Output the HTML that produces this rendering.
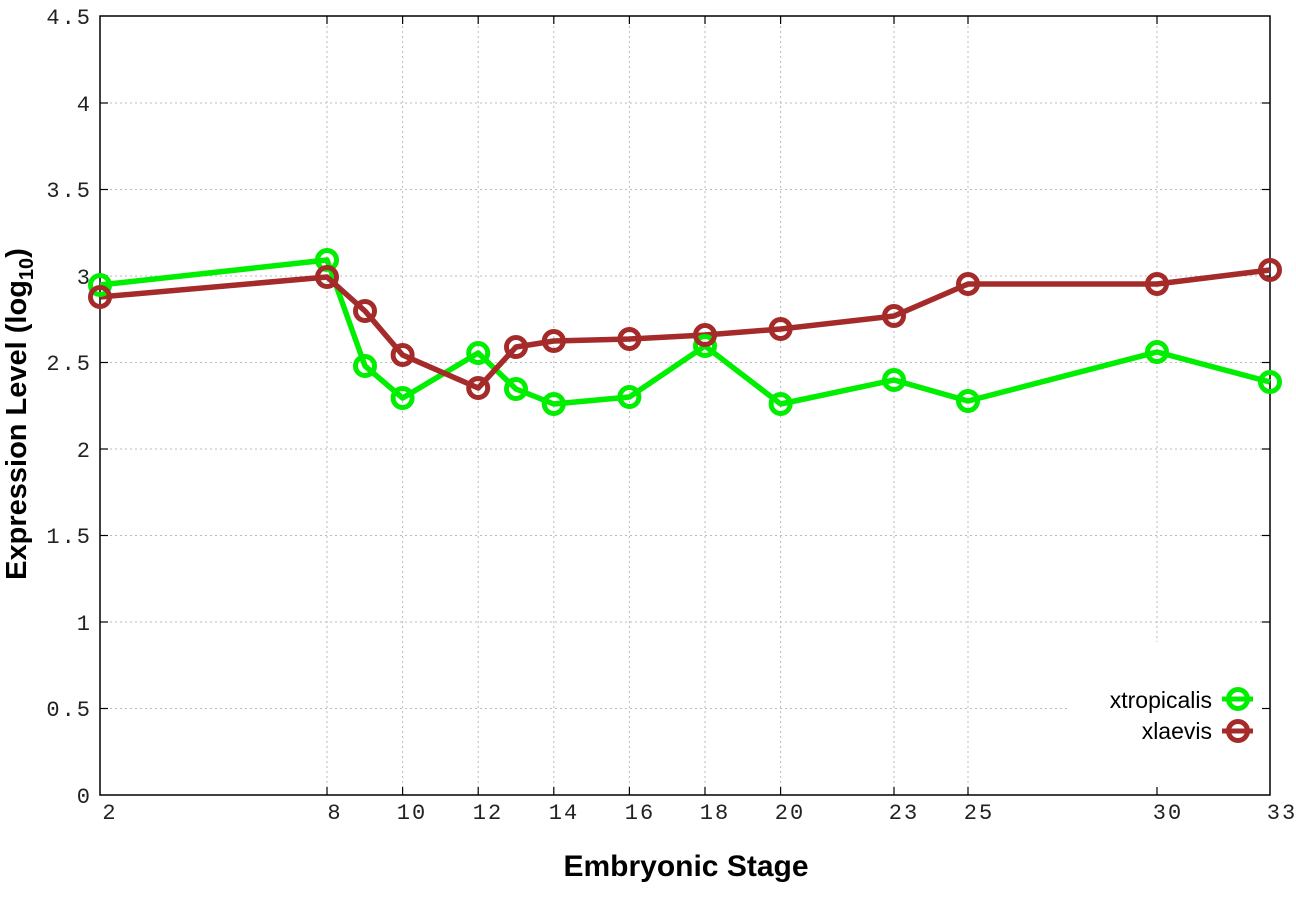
<!DOCTYPE html>
<html><head><meta charset="utf-8"><style>html,body{margin:0;padding:0;background:#fff}svg{display:block}</style></head>
<body>
<svg width="1296" height="907" xmlns="http://www.w3.org/2000/svg">
<rect width="1296" height="907" fill="#fff"/>
<g stroke="#bbb" stroke-width="1" stroke-dasharray="2,3">
<line x1="100" y1="103" x2="1270" y2="103"/>
<line x1="100" y1="189.5" x2="1270" y2="189.5"/>
<line x1="100" y1="276" x2="1270" y2="276"/>
<line x1="100" y1="362.5" x2="1270" y2="362.5"/>
<line x1="100" y1="449" x2="1270" y2="449"/>
<line x1="100" y1="535.5" x2="1270" y2="535.5"/>
<line x1="100" y1="622" x2="1270" y2="622"/>
<line x1="100" y1="708.5" x2="1070" y2="708.5"/>
<line x1="327" y1="16" x2="327" y2="795"/>
<line x1="402.6" y1="16" x2="402.6" y2="795"/>
<line x1="478.2" y1="16" x2="478.2" y2="795"/>
<line x1="553.8" y1="16" x2="553.8" y2="795"/>
<line x1="629.4" y1="16" x2="629.4" y2="795"/>
<line x1="705" y1="16" x2="705" y2="795"/>
<line x1="780.6" y1="16" x2="780.6" y2="795"/>
<line x1="894" y1="16" x2="894" y2="795"/>
<line x1="968" y1="16" x2="968" y2="795"/>
<line x1="1157" y1="16" x2="1157" y2="642"/>
</g>
<rect x="100" y="16" width="1170" height="779" fill="none" stroke="#000" stroke-width="1.5"/>
<g stroke="#000" stroke-width="1.2">
<line x1="100" y1="103" x2="108" y2="103"/><line x1="1270" y1="103" x2="1262" y2="103"/>
<line x1="100" y1="189.5" x2="108" y2="189.5"/><line x1="1270" y1="189.5" x2="1262" y2="189.5"/>
<line x1="100" y1="276" x2="108" y2="276"/><line x1="1270" y1="276" x2="1262" y2="276"/>
<line x1="100" y1="362.5" x2="108" y2="362.5"/><line x1="1270" y1="362.5" x2="1262" y2="362.5"/>
<line x1="100" y1="449" x2="108" y2="449"/><line x1="1270" y1="449" x2="1262" y2="449"/>
<line x1="100" y1="535.5" x2="108" y2="535.5"/><line x1="1270" y1="535.5" x2="1262" y2="535.5"/>
<line x1="100" y1="622" x2="108" y2="622"/><line x1="1270" y1="622" x2="1262" y2="622"/>
<line x1="100" y1="708.5" x2="108" y2="708.5"/><line x1="1270" y1="708.5" x2="1262" y2="708.5"/>
<line x1="327" y1="795" x2="327" y2="787"/><line x1="327" y1="16" x2="327" y2="24"/>
<line x1="402.6" y1="795" x2="402.6" y2="787"/><line x1="402.6" y1="16" x2="402.6" y2="24"/>
<line x1="478.2" y1="795" x2="478.2" y2="787"/><line x1="478.2" y1="16" x2="478.2" y2="24"/>
<line x1="553.8" y1="795" x2="553.8" y2="787"/><line x1="553.8" y1="16" x2="553.8" y2="24"/>
<line x1="629.4" y1="795" x2="629.4" y2="787"/><line x1="629.4" y1="16" x2="629.4" y2="24"/>
<line x1="705" y1="795" x2="705" y2="787"/><line x1="705" y1="16" x2="705" y2="24"/>
<line x1="780.6" y1="795" x2="780.6" y2="787"/><line x1="780.6" y1="16" x2="780.6" y2="24"/>
<line x1="894" y1="795" x2="894" y2="787"/><line x1="894" y1="16" x2="894" y2="24"/>
<line x1="968" y1="795" x2="968" y2="787"/><line x1="968" y1="16" x2="968" y2="24"/>
<line x1="1157" y1="795" x2="1157" y2="787"/><line x1="1157" y1="16" x2="1157" y2="24"/>
</g>
<g font-family="Liberation Mono, monospace" font-size="22" fill="#222" text-anchor="end" letter-spacing="2">
<text x="92" y="24">4.5</text><text x="92" y="111">4</text><text x="92" y="197">3.5</text>
<text x="92" y="284">3</text><text x="92" y="370">2.5</text><text x="92" y="457">2</text>
<text x="92" y="543">1.5</text><text x="92" y="630">1</text><text x="92" y="716">0.5</text><text x="92" y="803">0</text>
</g>
<g font-family="Liberation Mono, monospace" font-size="22" fill="#222" text-anchor="middle" letter-spacing="2">
<text x="110" y="819">2</text><text x="335" y="819">8</text><text x="412" y="819">10</text>
<text x="488" y="819">12</text><text x="564" y="819">14</text><text x="640" y="819">16</text>
<text x="715" y="819">18</text><text x="790" y="819">20</text><text x="904" y="819">23</text>
<text x="979" y="819">25</text><text x="1168" y="819">30</text><text x="1282" y="819">33</text>
</g>
<text x="686" y="876" font-family="Liberation Sans, sans-serif" font-weight="bold" font-size="30" text-anchor="middle">Embryonic Stage</text>
<text transform="translate(26,414) rotate(-90)" font-family="Liberation Sans, sans-serif" font-weight="bold" font-size="29" text-anchor="middle">Expression Level (log<tspan font-size="20" dy="7">10</tspan><tspan dy="-7">)</tspan></text>
<g fill="none" stroke-width="5.5" stroke-linejoin="round">
<polyline stroke="#00ee00" points="100,285 327,260 365,366 402.6,398 478.2,353 516,389 553.8,404 629.4,397 705,346 780.6,404 894,380 968,401 1157,352 1270,382"/>
<polyline stroke="#a52a2a" points="100,297 327,277 365,311 402.6,355 478.2,388 516,347 553.8,341 629.4,339 705,335 780.6,329 894,316 968,284 1157,284 1270,270"/>
</g>
<g fill="none" stroke-width="5" stroke="#00ee00">
<circle cx="100" cy="285" r="9.5"/><circle cx="327" cy="260" r="9.5"/><circle cx="365" cy="366" r="9.5"/><circle cx="402.6" cy="398" r="9.5"/><circle cx="478.2" cy="353" r="9.5"/><circle cx="516" cy="389" r="9.5"/><circle cx="553.8" cy="404" r="9.5"/><circle cx="629.4" cy="397" r="9.5"/><circle cx="705" cy="346" r="9.5"/><circle cx="780.6" cy="404" r="9.5"/><circle cx="894" cy="380" r="9.5"/><circle cx="968" cy="401" r="9.5"/><circle cx="1157" cy="352" r="9.5"/><circle cx="1270" cy="382" r="9.5"/>
</g>
<g fill="none" stroke-width="5" stroke="#a52a2a">
<circle cx="100" cy="297" r="9.5"/><circle cx="327" cy="277" r="9.5"/><circle cx="365" cy="311" r="9.5"/><circle cx="402.6" cy="355" r="9.5"/><circle cx="478.2" cy="388" r="9.5"/><circle cx="516" cy="347" r="9.5"/><circle cx="553.8" cy="341" r="9.5"/><circle cx="629.4" cy="339" r="9.5"/><circle cx="705" cy="335" r="9.5"/><circle cx="780.6" cy="329" r="9.5"/><circle cx="894" cy="316" r="9.5"/><circle cx="968" cy="284" r="9.5"/><circle cx="1157" cy="284" r="9.5"/><circle cx="1270" cy="270" r="9.5"/>
</g>
<g font-family="Liberation Sans, sans-serif" font-size="23" text-anchor="end" fill="#000">
<text x="1212" y="708">xtropicalis</text><text x="1212" y="739">xlaevis</text>
</g>
<g stroke-width="5" fill="none">
<line x1="1222" y1="699" x2="1253" y2="699" stroke="#00ee00"/><circle cx="1238" cy="699" r="9.5" stroke="#00ee00"/>
<line x1="1222" y1="731" x2="1253" y2="731" stroke="#a52a2a"/><circle cx="1238" cy="731" r="9.5" stroke="#a52a2a"/>
</g>
</svg>
</body></html>
